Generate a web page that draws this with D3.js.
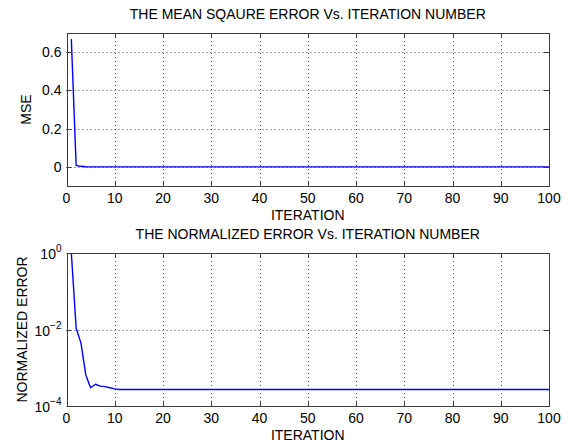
<!DOCTYPE html>
<html>
<head>
<meta charset="utf-8">
<script src="https://cdn.jsdelivr.net/npm/d3@7/dist/d3.min.js"></script>
<style>
  html, body { margin: 0; padding: 0; background: #fff; }
  svg { display: block; }
  text { font-family: "Liberation Sans", Arial, Helvetica, sans-serif; fill: #000; }
</style>
</head>
<body>
<svg id="chart" width="569" height="447"></svg>
<script>
// ---- data ----
const iterations = d3.range(1, 101);
const mseHead = [0.668, 0.0074, 0.0029, 0.00043, 0.0002, 0.00025, 0.00022, 0.00021, 0.0002, 0.00019];
const neHead  = [1.0, 0.011, 0.0044, 0.00065, 0.0003, 0.00037, 0.00033, 0.00032, 0.0003, 0.00028];
const mseTail = 0.00018;   // flat value for iterations 11..100
const neTail  = 0.00027;   // flat value for iterations 11..100
const mseValues = iterations.map((it, i) => i < mseHead.length ? mseHead[i] : mseTail);
const neValues  = iterations.map((it, i) => i < neHead.length ? neHead[i] : neTail);
const xTicks = [0, 10, 20, 30, 40, 50, 60, 70, 80, 90, 100];
const mseTicks = [0, 0.2, 0.4, 0.6];
const neTicks = [1e-4, 1e-2, 1];
const titles = ["THE MEAN SQAURE ERROR Vs. ITERATION NUMBER", "THE NORMALIZED ERROR Vs. ITERATION NUMBER"];
const xLabel = "ITERATION";
const yLabels = ["MSE", "NORMALIZED ERROR"];

// ---- layout ----
const svg = d3.select("#chart");
const L = 66.5, R = 549;
const FS = 14;
const panels = [
  { top: 33, bottom: 186, type: "lin", values: mseValues, ticks: mseTicks, domain: [-0.1, 0.7], title: titles[0], ylab: yLabels[0], ylabX: 31 },
  { top: 253, bottom: 406, type: "log", values: neValues, ticks: neTicks, domain: [1e-4, 1], title: titles[1], ylab: yLabels[1], ylabX: 27 }
];

const x = d3.scaleLinear().domain([0, 100]).range([L, R]);

panels.forEach(p => {
  const y = (p.type === "lin" ? d3.scaleLinear() : d3.scaleLog()).domain(p.domain).range([p.bottom, p.top]);
  const g = svg.append("g");

  // grid
  const grid = g.append("g").attr("stroke", "#000").attr("stroke-width", 1).attr("stroke-dasharray", "1,3").attr("opacity", 0.7);
  xTicks.filter(t => t > 0 && t < 100).forEach(t => {
    grid.append("line").attr("x1", Math.round(x(t)) + 0.5).attr("x2", Math.round(x(t)) + 0.5)
      .attr("y1", p.top).attr("y2", p.bottom);
  });
  p.ticks.forEach(t => {
    const yy = Math.round(y(t)) + 0.5;
    if (Math.abs(yy - p.top) < 2 || Math.abs(yy - p.bottom) < 2) return;
    grid.append("line").attr("x1", L).attr("x2", R).attr("y1", yy).attr("y2", yy);
  });

  // line
  const line = d3.line().x((d, i) => x(iterations[i])).y(d => y(d));
  g.append("path").datum(p.values).attr("d", line)
    .attr("fill", "none").attr("stroke", "#0000ff").attr("stroke-width", 1.4).attr("stroke-linejoin", "round");

  // box
  const ax = g.append("g").attr("stroke", "#3c3c3c").attr("stroke-width", 1).attr("fill", "none");
  ax.append("rect").attr("x", Math.round(L) + 0.5).attr("y", p.top + 0.5)
    .attr("width", Math.round(R) - Math.round(L)).attr("height", p.bottom - p.top);

  // ticks (inward, bottom and top, left and right)
  const TL = 5;
  xTicks.forEach(t => {
    const xx = Math.round(x(t)) + 0.5;
    ax.append("line").attr("x1", xx).attr("x2", xx).attr("y1", p.bottom).attr("y2", p.bottom - TL);
    ax.append("line").attr("x1", xx).attr("x2", xx).attr("y1", p.top).attr("y2", p.top + TL);
  });
  p.ticks.forEach(t => {
    const yy = Math.round(y(t)) + 0.5;
    ax.append("line").attr("x1", L).attr("x2", L + TL).attr("y1", yy).attr("y2", yy);
    ax.append("line").attr("x1", R).attr("x2", R - TL).attr("y1", yy).attr("y2", yy);
  });

  // x tick labels
  xTicks.forEach(t => {
    g.append("text").attr("x", x(t)).attr("y", p.bottom + 17).attr("text-anchor", "middle")
      .attr("font-size", FS).text(t);
  });
  // y tick labels
  p.ticks.forEach(t => {
    if (p.type === "lin") {
      g.append("text").attr("x", L - 5).attr("y", y(t)).attr("dy", "0.35em").attr("text-anchor", "end")
        .attr("font-size", FS).text(d3.format("")(t));
    } else {
      const ex = Math.round(Math.log10(t));
      const tx = g.append("text").attr("x", L - 5).attr("y", y(t) + 6).attr("text-anchor", "end").attr("font-size", FS);
      tx.append("tspan").text("10");
      tx.append("tspan").attr("dy", -7).attr("font-size", 10).text(ex === 0 ? "0" : "\u2212" + Math.abs(ex));
    }
  });

  // axis labels and title
  g.append("text").attr("x", (L + R) / 2).attr("y", p.bottom + 34).attr("text-anchor", "middle")
    .attr("font-size", FS).text(xLabel);
  g.append("text").attr("transform", `translate(${p.ylabX},${(p.top + p.bottom) / 2}) rotate(-90)`)
    .attr("text-anchor", "middle").attr("font-size", FS).text(p.ylab);
  g.append("text").attr("x", (L + R) / 2).attr("y", p.top - 14).attr("text-anchor", "middle")
    .attr("font-size", FS).text(p.title);
});
</script>
</body>
</html>
